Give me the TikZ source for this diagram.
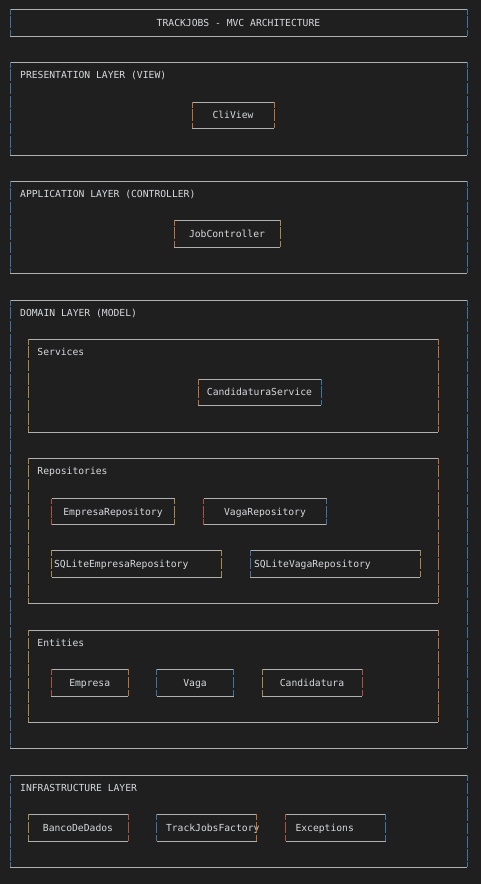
\documentclass[tikz,border=0pt]{standalone}
\usepackage{fontspec}
\setmonofont{DejaVu Sans Mono}
\usepackage{tikz}

\definecolor{bgdark}{RGB}{31,31,31}
\definecolor{rulegray}{RGB}{176,176,176}
\definecolor{textgray}{RGB}{214,217,222}
\definecolor{sideblue}{RGB}{62,116,164}
\definecolor{sidetan}{RGB}{168,138,72}
\definecolor{sideorange}{RGB}{192,112,52}
\definecolor{sidered}{RGB}{172,82,62}

\begin{document}
\begin{tikzpicture}[x=1pt, y=-1pt,
	every node/.style={font=\ttfamily\fontsize{9.7}{12}\selectfont, text=textgray, text height=7pt, text depth=0pt},
	hline/.style={draw=rulegray, line width=1pt},
	vline/.style={draw=#1, line width=1pt, dash pattern=on 11.8pt off 1.5pt, dash phase=6pt},
	tjbox/.style n args={4}{minimum width=#1, minimum height=#2, inner sep=0pt, outer sep=0pt,
		append after command={
			(\tikzlastnode.north west) edge[hline] (\tikzlastnode.north east)
			(\tikzlastnode.south west) edge[hline] (\tikzlastnode.south east)
			(\tikzlastnode.north west) edge[vline=#3] (\tikzlastnode.south west)
			(\tikzlastnode.north east) edge[vline=#4] (\tikzlastnode.south east)}},
	lefttext/.style 2 args={inner xsep=#1, text width=#2, align=left},
	layername/.style={anchor=west, inner sep=0pt}]
	\fill[bgdark] (0,0) rectangle (481,884);
	\node[tjbox={457pt}{27pt}{sideblue}{sideblue}] (header) at (238.5,22.5) {TRACKJOBS - MVC ARCHITECTURE};
	% presentation
	\node[tjbox={457pt}{93pt}{sideblue}{sideblue}] (view) at (238.5,108.5) {};
	\node[layername] (viewname) at (20,75) {PRESENTATION LAYER (VIEW)};
		\node[tjbox={82pt}{26pt}{sideorange}{sideorange}] (cliview) at (233,115) {CliView};
	% application
	\node[tjbox={457pt}{92pt}{sideblue}{sideblue}] (controller) at (238.5,227) {};
	\node[layername] (controllername) at (20,194) {APPLICATION LAYER (CONTROLLER)};
		\node[tjbox={106pt}{27pt}{sideorange}{sidetan}] (jobcontroller) at (227,233.5) {JobController};
	% domain
	\node[tjbox={457pt}{448pt}{sideblue}{sideblue}] (model) at (238.5,524) {};
	\node[layername] (modelname) at (20,313.3) {DOMAIN LAYER (MODEL)};
		\node[tjbox={410pt}{93pt}{sidetan}{sideorange}] (services) at (233,385.5) {};
		\node[layername] (servicesname) at (37.3,352.3) {Services};
			\node[tjbox={123pt}{26pt}{sideorange}{sideblue}] (candservice) at (259.5,392) {CandidaturaService};
		\node[tjbox={410pt}{145pt}{sidetan}{sideorange}] (repos) at (233,530.5) {};
		\node[layername] (reposname) at (37.3,471.3) {Repositories};
			\node[tjbox={123pt}{26pt}{sidered}{sidetan}] (emprepo) at (113,511.5) {EmpresaRepository};
			\node[tjbox={123pt}{26pt}{sidered}{sideblue}] (vagarepo) at (265,511.5) {VagaRepository};
			\node[tjbox={170pt}{27pt}{sidetan}{sidetan}, lefttext={2.6pt}{164.8pt}] (sqlemprepo) at (136.5,563.7) {SQLiteEmpresaRepository};
			\node[tjbox={170pt}{27pt}{sideblue}{sidetan}, lefttext={3.7pt}{162.6pt}] (sqlvagarepo) at (335.3,563.7) {SQLiteVagaRepository};
		\node[tjbox={410pt}{92pt}{sidetan}{sideorange}] (entities) at (233,676.3) {};
		\node[layername] (entitiesname) at (37.3,643.3) {Entities};
			\node[tjbox={77pt}{27pt}{sidered}{sideorange}] (empresa) at (89.7,682.8) {Empresa};
			\node[tjbox={77pt}{27pt}{sideblue}{sideblue}] (vaga) at (195,682.8) {Vaga};
			\node[tjbox={100pt}{27pt}{sidetan}{sidered}] (candidatura) at (312,682.8) {Candidatura};
	% infrastructure
	\node[tjbox={457pt}{92pt}{sideblue}{sideblue}] (infra) at (238.5,821.3) {};
	\node[layername] (infraname) at (20,788.3) {INFRASTRUCTURE LAYER};
		\node[tjbox={100pt}{27pt}{sidetan}{sidered}] (banco) at (78,827.8) {BancoDeDados};
		\node[tjbox={100pt}{27pt}{sideblue}{sideorange}, lefttext={9.3pt}{81.4pt}] (factory) at (206.7,827.8) {TrackJobsFactory};
		\node[tjbox={100pt}{27pt}{sidered}{sideblue}, lefttext={10pt}{80pt}] (exceptions) at (335.5,827.8) {Exceptions};
\end{tikzpicture}
\end{document}
